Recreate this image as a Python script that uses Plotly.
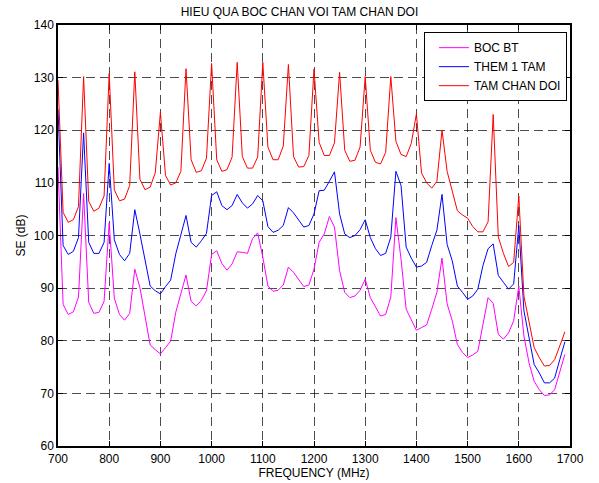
import plotly.graph_objects as go

freq = list(range(700, 1700, 10))

boc_bt = [113, 86.9, 85, 85.5, 88.3, 108, 87.3, 85.2, 85.4, 87.5,
          102.4, 88.1, 85, 83.9, 85.2, 93.6, 90.1, 84.4, 79.2, 78.3,
          77.5, 78.7, 79.9, 85.4, 89.2, 92.5, 87.5, 86.6, 87.7, 89.5,
          96.4, 97.1, 94.7, 93.4, 94.6, 96.9, 96.8, 96.6, 99.4, 100.5,
          95.9, 90.4, 89.4, 89.6, 90.6, 94, 93, 91.7, 90.3, 90.6,
          93.6, 98.7, 100.3, 103.6, 101.6, 93.3, 89.2, 88.2, 88.5, 89.6,
          91.7, 88.2, 86.4, 84.7, 85, 88.3, 103.4, 95.5, 86, 84,
          82, 82.5, 83, 86, 89.2, 95.7, 87, 83.8, 79.3, 77.8,
          76.8, 77.3, 78, 83.1, 88.2, 87.1, 81.2, 80.3, 81.5, 83.8,
          90.4, 80.9, 75.8, 72.3, 70.7, 69.6, 69.7, 70.7, 73.9, 77.4]

them_1_tam = [124, 98.1, 96.4, 97, 99.6, 119.5, 98.7, 96.6, 96.6, 98.7,
              113.7, 99.2, 96.4, 95.2, 96.6, 104.9, 100.3, 95.5, 90.4, 89.5,
              88.9, 90.3, 91.5, 96.5, 100.3, 103.8, 98.7, 97.8, 99, 100.4,
              107.6, 108.3, 105.7, 104.9, 105.7, 107.8, 106.2, 105.2, 106, 107.6,
              106.6, 101.7, 100.6, 101, 101.9, 105.3, 104.3, 102.9, 101.6, 101.9,
              104.1, 108.5, 108.6, 110.3, 112.1, 104.1, 100.3, 99.6, 100, 101.1,
              103, 99.6, 97.5, 96.2, 96.6, 99.7, 112.2, 109.5, 97.8, 95.7,
              94, 94.2, 94.9, 98.1, 101, 107.8, 98.3, 95.2, 90.4, 89.2,
              87.9, 88.5, 89.8, 94.3, 97.5, 98.4, 92.4, 91.1, 89.8, 90.8,
              101.9, 85.7, 80.6, 75.5, 73.9, 72, 72, 72.9, 76.4, 79.8]

tam_chan_doi = [129.5, 104.4, 102.5, 103, 105.5, 130.2, 106.5, 104.6, 105.2, 107.5,
                130.8, 108.7, 106.6, 106.9, 109.5, 131.1, 110.7, 108.7, 109.2, 111.9,
                123.4, 111.4, 109.6, 110, 112.2, 131.7, 114.4, 112, 112.3, 114.7,
                132.7, 114.4, 112.2, 112.5, 114.9, 132.9, 115, 112.8, 112.8, 114.9,
                132.9, 116.8, 114.4, 114.4, 117, 132.5, 115, 113, 113.1, 115.2,
                131.6, 117.7, 115.2, 115.2, 117.6, 131, 116.2, 114.1, 114.3, 116.8,
                130.2, 116.2, 113.9, 113.6, 115.8, 130.2, 117.9, 115.4, 115, 117.5,
                123.1, 111.9, 110, 109, 110.3, 120, 112.2, 108.7, 104.7, 103.9,
                103.3, 101.7, 100.7, 100.7, 102.6, 123, 99.7, 96.6, 94.1, 94.9,
                107.5, 88.5, 83.4, 78.7, 76.8, 75.2, 75.3, 76.4, 79, 81.7]

series_names = ["BOC BT", "THEM 1 TAM", "TAM CHAN DOI"]
series_values = [boc_bt, them_1_tam, tam_chan_doi]
series_colors = ["#ff00ff", "#0000ff", "#ff0000"]

x_ticks = list(range(700, 1800, 100))
y_ticks = list(range(60, 150, 10))

FONT = "Liberation Sans, Arial, Helvetica, sans-serif"

fig = go.Figure()
for name, vals, col in zip(series_names, series_values, series_colors):
    fig.add_trace(go.Scatter(x=freq, y=vals, mode="lines", name=name,
                             line=dict(color=col, width=1)))

axis_common = dict(
    showline=True, linecolor="black", linewidth=1.5, mirror="ticks",
    ticks="inside", ticklen=5, tickcolor="black", tickwidth=1,
    showgrid=True, gridcolor="rgba(0,0,0,0.7)", gridwidth=1, griddash="9px,5px",
    zeroline=False, tickfont=dict(family=FONT, size=12, color="black"),
    automargin=False,
)

fig.update_xaxes(range=[700, 1700], tickvals=x_ticks, ticktext=[str(v) for v in x_ticks],
                 ticklabelstandoff=1,
                 title=dict(text="FREQUENCY (MHz)", font=dict(family=FONT, size=12, color="black"),
                            standoff=2),
                 **axis_common)
fig.update_yaxes(range=[60, 140], tickvals=y_ticks, ticktext=[str(v) for v in y_ticks],
                 title=dict(text="SE (dB)", font=dict(family=FONT, size=12, color="black"),
                            standoff=6),
                 **axis_common)

fig.update_layout(
    width=599, height=483, autosize=False,
    margin=dict(l=58, r=29, t=25, b=37),
    paper_bgcolor="white", plot_bgcolor="white",
    font=dict(family=FONT, size=12, color="black"),
    title=dict(text="HIEU QUA BOC CHAN VOI TAM CHAN DOI", x=0.5, xanchor="center",
               y=1 - 12 / 483, yanchor="middle", yref="container",
               font=dict(family=FONT, size=12, color="black"), automargin=False),
    legend=dict(x=0.994, y=0.983, xanchor="right", yanchor="top",
                bgcolor="white", bordercolor="black", borderwidth=1,
                font=dict(family=FONT, size=12, color="black"),
                indentation=9, tracegroupgap=0),
    showlegend=True,
)

fig.write_html("out.html")
